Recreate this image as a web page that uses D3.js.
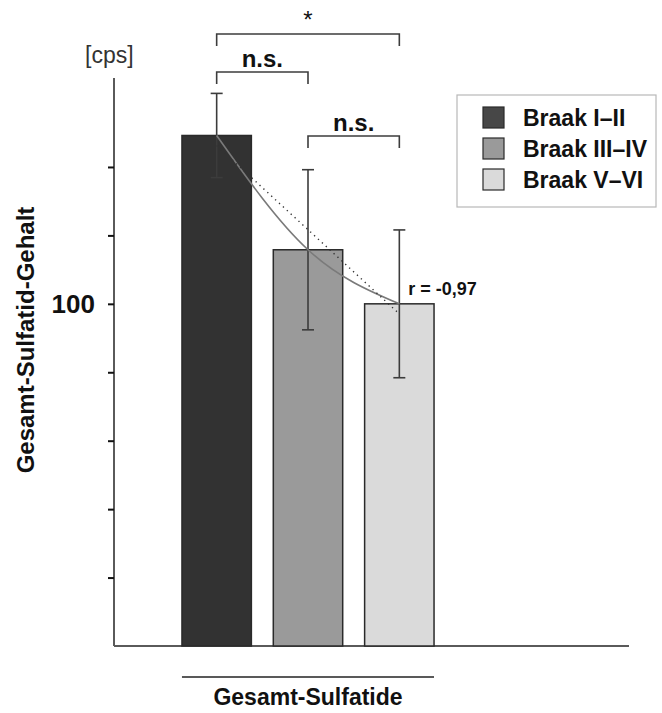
<!DOCTYPE html>
<html>
<head>
<meta charset="utf-8">
<script src="https://cdn.jsdelivr.net/npm/d3@7"></script>
<style>
  html, body { margin: 0; padding: 0; background: #fff; }
  svg { display: block; font-family: "Liberation Sans", Arial, Helvetica, sans-serif; }
</style>
</head>
<body>
<svg id="chart" width="662" height="713"></svg>
<script>
// Total sulfatide content by Braak stage (cps)
const groups = ["Braak I–II", "Braak III–IV", "Braak V–VI"];
const means = [149.2, 115.8, 100.0];
const errors = [12.3, 23.4, 21.6];
const fills = ["#323232", "#9a9a9a", "#dadada"];
const swatchFills = ["#474747", "#9a9a9a", "#dadada"];
const yTicks = [20, 40, 60, 80, 100, 120, 140];
const yLabelled = [100];
const category = "Gesamt-Sulfatide";
const corrLabel = "r = -0,97";
// significance brackets: [from group, to group, label, level]
const brackets = [
  [0, 2, "*", 0],
  [0, 1, "n.s.", 1],
  [1, 2, "n.s.", 2]
];

const svg = d3.select("#chart");
const axisColor = "#5a5a5a";
const inkColor = "#3c3c3c";

const y = d3.scaleLinear().domain([0, 166]).range([646, 78]);
const x = d3.scaleBand().domain(groups).range([171, 445]).paddingInner(0.24).paddingOuter(0.12);

// y axis
const yAxis = svg.append("g")
  .attr("transform", "translate(114,0)")
  .call(d3.axisLeft(y).tickValues(yTicks).tickSize(6).tickPadding(13)
    .tickFormat(d => yLabelled.includes(d) ? d : ""));
yAxis.select(".domain").attr("stroke", axisColor).attr("stroke-width", 2).attr("d", `M0,${y(166)}V${y(0)}`);
yAxis.selectAll(".tick line").attr("stroke", "#111").attr("stroke-width", 2);
yAxis.selectAll(".tick text").attr("fill", "#111").attr("font-size", 26).attr("font-weight", "bold")
  .attr("font-family", "Liberation Sans, Arial, sans-serif");

// x axis baseline
svg.append("line")
  .attr("x1", 114).attr("x2", 629).attr("y1", y(0)).attr("y2", y(0))
  .attr("stroke", axisColor).attr("stroke-width", 2);

// bars
svg.append("g").selectAll("rect").data(groups).join("rect")
  .attr("x", d => x(d))
  .attr("y", (d, i) => y(means[i]))
  .attr("width", x.bandwidth())
  .attr("height", (d, i) => y(0) - y(means[i]))
  .attr("fill", (d, i) => fills[i])
  .attr("stroke", "#2a2a2a").attr("stroke-width", 1.5);

const cx = d => x(d) + x.bandwidth() / 2;

// error bars
const eb = svg.append("g").attr("stroke", inkColor).attr("stroke-width", 1.6).attr("fill", "none");
groups.forEach((g, i) => {
  const c = cx(g), hi = y(means[i] + errors[i]), lo = y(means[i] - errors[i]);
  eb.append("line").attr("x1", c).attr("x2", c).attr("y1", hi).attr("y2", lo);
  eb.append("line").attr("x1", c - 6).attr("x2", c + 6).attr("y1", hi).attr("y2", hi);
  eb.append("line").attr("x1", c - 6).attr("x2", c + 6).attr("y1", lo).attr("y2", lo);
});

// trend: smooth curve through the means
const pts = groups.map((g, i) => [cx(g), y(means[i])]);
svg.append("path")
  .attr("d", d3.line().curve(d3.curveNatural)(pts))
  .attr("fill", "none").attr("stroke", "#7a7a7a").attr("stroke-width", 1.6);

// trend: least-squares linear fit (dotted)
const xs = groups.map((g, i) => i + 1);
const mx = d3.mean(xs), my = d3.mean(means);
const slope = d3.sum(xs, (v, i) => (v - mx) * (means[i] - my)) / d3.sum(xs, v => (v - mx) ** 2);
const icpt = my - slope * mx;
const fit = groups.map((g, i) => [cx(g), y(icpt + slope * (i + 1))]);
svg.append("path")
  .attr("d", d3.line()([fit[0], fit[fit.length - 1]]))
  .attr("fill", "none").attr("stroke", "#333").attr("stroke-width", 1.4)
  .attr("stroke-dasharray", "1.3,4");

// correlation label
svg.append("text")
  .attr("x", cx(groups[2]) + 9).attr("y", y(means[2]) - 9)
  .attr("font-size", 18).attr("font-weight", "bold").attr("fill", "#111")
  .text(corrLabel);

// significance brackets
const bracketY = [34, 72, 136];
const br = svg.append("g");
brackets.forEach(([a, b, label, lvl]) => {
  const x1 = cx(groups[a]), x2 = cx(groups[b]), yy = bracketY[lvl];
  br.append("path")
    .attr("d", `M${x1},${yy + 12}V${yy}H${x2}V${yy + 12}`)
    .attr("fill", "none").attr("stroke", inkColor).attr("stroke-width", 1.6);
  br.append("text")
    .attr("x", (x1 + x2) / 2).attr("y", label === "*" ? yy - 6 : yy - 5)
    .attr("text-anchor", "middle")
    .attr("font-size", label === "*" ? 24 : 24)
    .attr("font-weight", label === "*" ? "normal" : "bold")
    .attr("fill", "#111")
    .text(label);
});

// unit label
svg.append("text")
  .attr("x", 85).attr("y", 63)
  .attr("font-size", 23).attr("fill", "#333")
  .text("[cps]");

// y axis title
svg.append("text")
  .attr("transform", "translate(34,340) rotate(-90)")
  .attr("text-anchor", "middle")
  .attr("font-size", 24).attr("font-weight", "bold").attr("fill", "#111")
  .text("Gesamt-Sulfatid-Gehalt");

// category line and label
svg.append("line")
  .attr("x1", x(groups[0])).attr("x2", x(groups[2]) + x.bandwidth())
  .attr("y1", 677).attr("y2", 677)
  .attr("stroke", "#222").attr("stroke-width", 1.6);
svg.append("text")
  .attr("x", (x(groups[0]) + x(groups[2]) + x.bandwidth()) / 2).attr("y", 705)
  .attr("text-anchor", "middle")
  .attr("font-size", 23).attr("font-weight", "bold").attr("fill", "#111")
  .text(category);

// legend
const lg = svg.append("g").attr("transform", "translate(457,95)");
lg.append("rect").attr("width", 199).attr("height", 112)
  .attr("fill", "#fff").attr("stroke", "#b8b8b8").attr("stroke-width", 1.2);
groups.forEach((g, i) => {
  const row = lg.append("g").attr("transform", `translate(26,${12 + i * 31})`);
  row.append("rect").attr("width", 21).attr("height", 21)
    .attr("fill", swatchFills[i]).attr("stroke", "#2a2a2a").attr("stroke-width", 1.2);
  row.append("text").attr("x", 40).attr("y", 19)
    .attr("font-size", 23).attr("font-weight", "bold").attr("fill", "#111")
    .text(g);
});
</script>
</body>
</html>
